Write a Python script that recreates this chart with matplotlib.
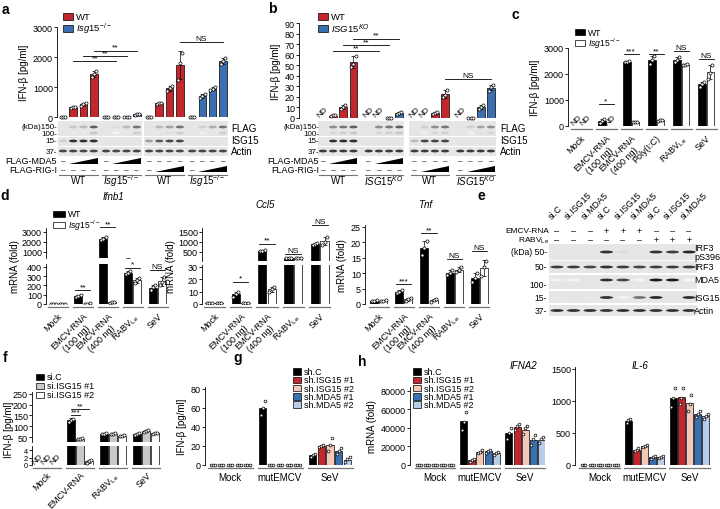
import numpy as np
import matplotlib
matplotlib.use('Agg')
import matplotlib.pyplot as plt
import matplotlib.transforms as mtransforms
from matplotlib.patches import Rectangle, Polygon, Ellipse

W, H = 720, 510

plt.rcParams['font.family'] = ['Liberation Sans', 'DejaVu Sans']
plt.rcParams['font.size'] = 6
plt.rcParams['axes.linewidth'] = 0.6
plt.rcParams['xtick.major.width'] = 0.6
plt.rcParams['ytick.major.width'] = 0.6
plt.rcParams['xtick.major.size'] = 2
plt.rcParams['ytick.major.size'] = 2
plt.rcParams['ytick.major.pad'] = 1
plt.rcParams['mathtext.fontset'] = 'custom'
plt.rcParams['mathtext.rm'] = 'Liberation Sans'
plt.rcParams['mathtext.it'] = 'Liberation Sans:italic'
plt.rcParams['mathtext.bf'] = 'Liberation Sans:bold'
plt.rcParams['mathtext.default'] = 'regular'

RED = '#C1272D'
BLUE = '#3A70B0'
PINK = '#F4C7B8'
LBLUE = '#B7CDEA'
GRAY = '#C9C9C9'

ISG = r'$\it{Isg15}^{-/-}$'
KO = r'$\it{ISG15}^{KO}$'
RABV = r'RABV$_{Le}$'

# ---- panel a : IFN-b [pg/ml], MEFs, 4 groups x 4 doses
a_wt_mda5 = [[0, 0, 0], [310, 330, 350], [380, 430, 470], [1350, 1430, 1520]]
a_ko_mda5 = [[0, 0, 0], [0, 0, 0], [0, 0, 0], [70, 95, 110]]
a_wt_rig = [[0, 0, 0], [430, 455, 480], [870, 980, 1040], [1250, 1800, 2150]]
a_ko_rig = [[0, 0, 0], [640, 700, 760], [900, 950, 990], [1760, 1880, 1960]]
a_flag = [0, .25, .3, .7, 0, .15, .3, .6, 0, .3, .4, .6, 0, .2, .35, .6]
a_isg15 = [.2, .9, .9, .9, 0, 0, 0, 0, .4, .7, .8, .8, 0, 0, 0, 0]
a_actin = [.8] * 16

# ---- panel b : human cells, None = ND
b_wt_mda5 = [None, [1.5, 2.5, 3], [9, 10.5, 12], [48, 51, 59]]
b_ko_mda5 = [None, None, [0, 0, 0], [3.5, 4.5, 6]]
b_wt_rig = [None, None, [3.5, 4.5, 5.5], [20, 22, 27]]
b_ko_rig = [None, [0, 0, 0], [9, 10.5, 12], [26, 29, 31]]
b_flag = [0, .5, .6, .7, 0, .5, .6, .7, 0, .2, .5, .6, 0, .2, .4, .5]
b_isg15 = [.1, .9, .9, .9, 0, 0, 0, 0, .3, .8, .8, .8, 0, 0, 0, 0]
b_actin = [.85] * 16

# ---- panel c
c_cats = ['Mock', 'EMCV-RNA\n(100 ng)', 'EMCV-RNA\n(400 ng)', 'Poly(I:C)', RABV, 'SeV']
c_wt = [None, [100, 200, 280], [2450, 2480, 2510], [2400, 2550, 2700], [2450, 2550, 2650], [1500, 1620, 1700]]
c_ko = [None, None, [140, 150, 160], [210, 230, 245], [2330, 2350, 2370], [1800, 2050, 2350]]
c_sig = [(1, '*', 850), (2, '***', 2770), (3, '**', 2770), (4, 'NS', 2880), (5, 'NS', 2580)]

# ---- panel d
d_cats = ['Mock', 'EMCV-RNA\n(100 ng)', 'EMCV-RNA\n(400 ng)', RABV, 'SeV']
ifnb_wt = [[1, 1, 1], [80, 90, 100], [2200, 2350, 2500], [320, 340, 360], [150, 180, 200]]
ifnb_ko = [[1, 1, 1], [3, 5, 7], [15, 20, 25], [230, 260, 280], [200, 240, 290]]
ccl5_wt = [[0.5, 0.5, 0.6], [6, 8, 10], [530, 560, 600], [190, 200, 210], [850, 900, 950]]
ccl5_ko = [[0.5, 0.5, 0.6], [0.8, 1, 1.2], [10, 12, 14], [180, 190, 200], [850, 1000, 1250]]
tnf_wt = [[1, 1, 1.2], [3.5, 4, 4.5], [16, 18, 20.5], [9.5, 10, 11], [7, 8.5, 10]]
tnf_ko = [[1, 1.1, 1.2], [1, 1.5, 2], [0.8, 1.2, 1.5], [10.5, 11, 12], [9, 12, 14]]

# ---- panel e : western blot band strength per lane
e_lanes = ['si.C', 'si.ISG15', 'si.MDA5'] * 3
e_emcv = ['–', '–', '–', '+', '+', '+', '–', '–', '–']
e_rabv = ['–', '–', '–', '–', '–', '–', '+', '+', '+']
e_pirf3 = [0, 0, 0, .9, .15, 0, .9, .85, .95]
e_irf3 = [.85, .85, .8, .9, .85, .8, .85, .85, .85]
e_mda5 = [.05, .05, 0, .9, .8, .05, 1, 1, .05]
e_isg15 = [.1, 0, .1, .9, .05, .6, .95, 0, .9]
e_actin = [.9] * 9

# ---- panel f
f_cats = ['Mock', 'EMCV-RNA', RABV, 'SeV']
f_names = ['si.C', 'si.ISG15 #1', 'si.ISG15 #2']
f_sic = [None, [120, 130, 136], [62, 65, 68], [58, 63, 68]]
f_isg1 = [None, [40, 42, 45], [63, 66, 68], [75, 78, 82]]
f_isg2 = [None, [0.6, 1, 1.4], [55, 57, 58], [66, 68, 70]]

# ---- panels g, h
sh_names = ['sh.C', 'sh.ISG15 #1', 'sh.ISG15 #2', 'sh.MDA5 #1', 'sh.MDA5 #2']
gh_cats = ['Mock', 'mutEMCV', 'SeV']
g_vals = [[[0, 0, 0], [53, 60, 67], [8, 10, 12]],
          [[0, 0, 0], [0, 0, 0], [19, 20, 21]],
          [[0, 0, 0], [0, 0, 0], [15, 21, 28]],
          [[0, 0, 0], [0, 0, 0], [12, 15, 18]],
          [[0, 0, 0], [0, 0, 0], [3, 6, 8]]]
ifna2_vals = [[[0, 0, 0], [38000, 47000, 57000], [28000, 35000, 40000]],
              [[0, 0, 0], [3000, 5000, 7000], [38000, 42000, 44000]],
              [[0, 0, 0], [13000, 14500, 16000], [33000, 40000, 42000]],
              [[0, 0, 0], [13000, 15000, 16500], [22000, 28000, 32000]],
              [[0, 0, 0], [11000, 13000, 14000], [24000, 28000, 30000]]]
il6_vals = [[[0, 0, 0], [650, 700, 720], [900, 1050, 1200]],
            [[0, 0, 0], [220, 240, 260], [950, 1050, 1200]],
            [[0, 0, 0], [280, 300, 320], [850, 950, 1100]],
            [[0, 0, 0], [100, 120, 140], [750, 800, 850]],
            [[0, 0, 0], [110, 125, 140], [720, 770, 800]]]
sh_colors = ['black', RED, PINK, BLUE, LBLUE]

TICK = 6.5


def add_ax(fig, x0, y0, x1, y1):
    ax = fig.add_axes([x0 / W, 1 - y1 / H, (x1 - x0) / W, (y1 - y0) / H])
    ax.patch.set_alpha(0)
    ax.spines['top'].set_visible(False)
    ax.spines['right'].set_visible(False)
    ax.tick_params(labelsize=TICK)
    return ax


def lane_px(ax, xs):
    return [ax.transData.transform((x, 0))[0] for x in xs]


def bars(ax, xs, reps, color, width, err=True, clip=True, nd=True, s=5):
    lo, hi = ax.get_ylim()
    for x, r in zip(xs, reps):
        if r is None:
            if nd:
                ax.text(x, 0, 'ND', rotation=45, ha='center', va='bottom', fontsize=6)
            continue
        r = np.asarray(r, float)
        m = r.mean()
        ax.bar(x, m, width, color=color, edgecolor='black', linewidth=0.5, zorder=2)
        if err and r.std() > 0:
            ax.errorbar(x, m, yerr=r.std(ddof=1), fmt='none', ecolor='black',
                        elinewidth=0.5, capsize=1.3, capthick=0.5, zorder=3)
        jx = x + np.array([-0.28, 0.0, 0.28]) * width
        if clip:
            keep = (r >= lo) & (r <= hi)
            jx, r = jx[keep], r[keep]
        ax.scatter(jx, r, s=s, facecolor='white', edgecolor='black',
                   linewidths=0.5, zorder=4, clip_on=clip)


def sig(ax, x0, x1, y, txt):
    ax.plot([x0, x1], [y, y], color='black', lw=0.6, clip_on=False, zorder=5)
    ax.text((x0 + x1) / 2, y, txt, ha='center', va='bottom', fontsize=6, clip_on=False)


def cat_axis(ax, centers, labels, half, rot=True, pad=5, fs=TICK):
    ax.set_xticks(centers)
    ax.set_xticklabels(labels, fontsize=fs)
    ax.tick_params(axis='x', length=0, pad=pad)
    ax.spines['bottom'].set_visible(False)
    tr = mtransforms.offset_copy(ax.get_xaxis_transform(), fig=ax.figure, y=-2.5, units='dots')
    for c in centers:
        ax.plot([c - half, c + half], [0, 0], color='0.45', lw=0.9, transform=tr, clip_on=False)
    if rot:
        for t in ax.get_xticklabels():
            t.set_rotation(45)
            t.set_ha('right')
            t.set_rotation_mode('anchor')
            t.set_multialignment('center')


def legend_box(ov, x, y, color, label, w=10, h=7, fs=6.5):
    ov.add_patch(Rectangle((x, y - h / 2), w, h, facecolor=color, edgecolor='black', lw=0.5))
    ov.text(x + w + 3, y, label, va='center', ha='left', fontsize=fs)


def draw_blot(ov, xs, segs, rows):
    sp = min(np.diff(xs))
    for y0, y1, bands in rows:
        for s0, s1 in segs:
            ov.add_patch(Rectangle((xs[s0] - sp * 0.5, y0), xs[s1] - xs[s0] + sp, y1 - y0,
                                   facecolor='#E6E6E6', edgecolor='none'))
        for by, vals in bands:
            for x, v in zip(xs, vals):
                if v > 0:
                    ov.add_patch(Ellipse((x, by), sp * 0.8, 2.8, facecolor=str(1 - 0.9 * v),
                                         edgecolor='none'))


def dose_panel(fig, ov, box, vals, colors, step, xlim, ylim, yticks, sigs,
               flag, isg15, actin, kda_x, right_x, glabels):
    ax = add_ax(fig, *box)
    ax.set_xlim(*xlim)
    ax.set_ylim(*ylim)
    pos = [[g * step + i for i in range(4)] for g in range(4)]
    for g in range(4):
        bars(ax, pos[g], vals[g], colors[g], 0.75, clip=False)
    ax.set_yticks(yticks)
    ax.set_xticks([])
    ax.spines['bottom'].set_visible(False)
    ax.set_ylabel('IFN-β [pg/ml]', fontsize=7, labelpad=3)
    for g0, i0, g1, i1, txt, y in sigs:
        sig(ax, pos[g0][i0], pos[g1][i1], y, txt)

    flat = [p for grp in pos for p in grp]
    xs = lane_px(ax, flat)
    faint = [v * 0.35 for v in flag]
    draw_blot(ov, xs, [(0, 7), (8, 15)],
              [(122, 137, [(128, flag), (134, faint)]),
               (138, 147, [(142, isg15)]),
               (148, 157, [(152, actin)])])
    for txt, y in [('(kDa)150-', 127.5), ('100-', 134.5), ('15-', 142), ('37-', 153)]:
        ov.text(kda_x, y, txt, ha='right', va='center', fontsize=5.8)
    for txt, y in [('FLAG', 129), ('ISG15', 141), ('Actin', 152)]:
        ov.text(right_x, y, txt, ha='left', va='center', fontsize=7)
    ov.text(kda_x, 162, 'FLAG-MDA5', ha='right', va='center', fontsize=6.5)
    ov.text(kda_x, 170.5, 'FLAG-RIG-I', ha='right', va='center', fontsize=6.5)
    for g in range(4):
        gx = xs[g * 4:(g + 1) * 4]
        dose_row = 162 if g < 2 else 170.5
        other = 170.5 if g < 2 else 162
        ov.text(gx[0], dose_row, '–', ha='center', va='center', fontsize=6)
        ov.add_patch(Polygon([(gx[1] - 4, dose_row + 2.5), (gx[3] + 4, dose_row + 2.5),
                              (gx[3] + 4, dose_row - 3.5)], closed=True,
                             facecolor='black', edgecolor='none'))
        for x in gx:
            ov.text(x, other, '–', ha='center', va='center', fontsize=6)
        ov.plot([gx[0] - 4, gx[3] + 4], [175.5, 175.5], color='0.45', lw=0.8)
        ov.text(np.mean(gx), 181, glabels[g % 2], ha='center', va='center', fontsize=7)
    return ax


def pair_panel(ax_list, centers, wt, ko, off, width, low_ax, nd=True):
    for ax in ax_list:
        bars(ax, centers - off, wt, 'black', width, nd=(ax is low_ax and nd))
        bars(ax, centers + off, ko, 'white', width, nd=(ax is low_ax and nd))


def broken(ax_u, ax_l):
    ax_u.spines['bottom'].set_visible(False)
    ax_u.set_xticks([])
    ax_l.spines['top'].set_visible(False)


def group_panel(ax, vals, colors, step, width, err=False):
    centers = np.arange(len(vals[0]))
    for k, (v, col) in enumerate(zip(vals, colors)):
        xs = centers + (k - (len(vals) - 1) / 2) * step
        bars(ax, xs, v, col, width, err=err, clip=False, s=4)
    return centers


def main():
    fig = plt.figure(figsize=(W / 100, H / 100), dpi=100)
    ov = fig.add_axes([0, 0, 1, 1], zorder=10)
    ov.set_xlim(0, W)
    ov.set_ylim(H, 0)
    ov.axis('off')

    # a
    dose_panel(fig, ov, (57, 28, 228, 118), [a_wt_mda5, a_ko_mda5, a_wt_rig, a_ko_rig],
               [RED, BLUE, RED, BLUE], 4.2, (-0.58, 16.1), (0, 3000), [0, 1000, 2000, 3000],
               [(0, 1, 1, 1, '**', 1870), (0, 2, 1, 2, '**', 2020), (0, 3, 1, 3, '**', 2210),
                (2, 3, 3, 3, 'NS', 2490)],
               a_flag, a_isg15, a_actin, 57, 231, ['WT', ISG])
    legend_box(ov, 63, 17.5, RED, 'WT', fs=6.8)
    legend_box(ov, 63, 29, BLUE, ISG, fs=6.8)

    # b
    dose_panel(fig, ov, (299, 24, 497, 119), [b_wt_mda5, b_ko_mda5, b_wt_rig, b_ko_rig],
               [RED, BLUE, RED, BLUE], 4.5, (-2.35, 17.1), (0, 90), list(range(0, 91, 10)),
               [(0, 1, 1, 1, '**', 63.5), (0, 2, 1, 2, '**', 69), (0, 3, 1, 3, '**', 75),
                (2, 3, 3, 3, 'NS', 37)],
               b_flag, b_isg15, b_actin, 319, 500, ['WT', KO])
    legend_box(ov, 318, 17.5, RED, 'WT', fs=6.8)
    legend_box(ov, 318, 29, BLUE, KO, fs=6.8)

    # c
    ax = add_ax(fig, 568, 49, 716, 127)
    ax.set_xlim(-0.52, 5.4)
    ax.set_ylim(0, 3000)
    cc = np.arange(len(c_cats), dtype=float)
    pair_panel([ax], cc, c_wt, c_ko, 0.17, 0.3, ax)
    ax.set_yticks([0, 1000, 2000, 3000])
    cat_axis(ax, cc, c_cats, 0.42)
    ax.set_ylabel('IFN-β [pg/ml]', fontsize=7, labelpad=3)
    for k, txt, y in c_sig:
        sig(ax, k - 0.3, k + 0.3, y, txt)
    legend_box(ov, 575, 33, 'black', 'WT', h=6, fs=6.2)
    legend_box(ov, 575, 44, 'white', ISG, h=6, fs=6.2)

    # d
    dc = np.arange(len(d_cats), dtype=float)
    specs = [
        ('Ifnb1', (46, 170), (-0.48, 4.5), ifnb_wt, ifnb_ko, (229, 259), (400, 3400), [1000, 2000, 3000],
         (265, 305), (0, 432), [0, 100, 200, 300, 400], (113, 197),
         [(1, '**', 150, 'l'), (2, '**', 3500, 'u'), (3, '*', 390, 'l'), (4, 'NS', 370, 'l')]),
        ('Ccl5', (202, 333), (-0.46, 4.5), ccl5_wt, ccl5_ko, (229, 262), (50, 1700), [500, 1000, 1500],
         (266, 305), (0, 31.6), [0, 10, 20, 30], (265, 205),
         [(1, '*', 18, 'l'), (2, '**', 920, 'u'), (3, 'NS', 400, 'u'), (4, 'NS', 1850, 'u')]),
    ]
    for title, (x0, x1), xl, wt, ko, uy, ulim, uticks, ly, llim, lticks, tpos, sgs in specs:
        ax_u = add_ax(fig, x0, uy[0], x1, uy[1])
        ax_l = add_ax(fig, x0, ly[0], x1, ly[1])
        for a_ in (ax_u, ax_l):
            a_.set_xlim(*xl)
        ax_u.set_ylim(*ulim)
        ax_l.set_ylim(*llim)
        pair_panel([ax_u, ax_l], dc, wt, ko, 0.18, 0.32, ax_l)
        ax_u.set_yticks(uticks)
        ax_l.set_yticks(lticks)
        broken(ax_u, ax_l)
        cat_axis(ax_l, dc, d_cats, 0.4)
        for k, txt, y, which in sgs:
            sig(ax_u if which == 'u' else ax_l, k - 0.3, k + 0.3, y, txt)
        ov.text(x0 - 31, 267, 'mRNA (fold)', rotation=90, ha='center', va='center', fontsize=7)
        ov.text(tpos[0], tpos[1], title, style='italic', ha='center', va='center', fontsize=7)
    ax = add_ax(fig, 365, 226, 493, 305)
    ax.set_xlim(-0.55, 4.55)
    ax.set_ylim(0, 25.6)
    pair_panel([ax], dc, tnf_wt, tnf_ko, 0.18, 0.32, ax)
    ax.set_yticks([0, 5, 10, 15, 20, 25])
    cat_axis(ax, dc, d_cats, 0.4)
    ax.set_ylabel('mRNA (fold)', fontsize=7, labelpad=3)
    for k, txt, y in [(1, '***', 6.5), (2, '**', 23), (3, 'NS', 14.6), (4, 'NS', 17.3)]:
        sig(ax, k - 0.3, k + 0.3, y, txt)
    ov.text(425, 205, 'Tnf', style='italic', ha='center', va='center', fontsize=7)
    legend_box(ov, 53, 214.5, 'black', 'WT', w=12, h=6, fs=6.2)
    legend_box(ov, 53, 225.5, 'white', ISG, w=12, h=6, fs=6.2)

    # e
    ex = [557 + 16.5 * k for k in range(9)]
    for x, lab in zip(ex, e_lanes):
        ov.text(x - 4, 221, lab, rotation=45, ha='left', va='bottom', rotation_mode='anchor', fontsize=6.5)
    ov.text(549, 232, 'EMCV-RNA', ha='right', va='center', fontsize=6)
    ov.text(549, 240.5, RABV, ha='right', va='center', fontsize=6)
    for x, m1, m2 in zip(ex, e_emcv, e_rabv):
        ov.text(x, 232, m1, ha='center', va='center', fontsize=6.5)
        ov.text(x, 240.5, m2, ha='center', va='center', fontsize=6.5)
    draw_blot(ov, ex, [(0, 8)],
              [(245, 261, [(253, e_pirf3)]),
               (262, 274, [(268, e_irf3)]),
               (276, 290, [(281, e_mda5)]),
               (292, 304, [(298.5, e_isg15)]),
               (306, 317, [(311.5, e_actin)])])
    for txt, y in [('(kDa) 50-', 253), ('50-', 268), ('100-', 286), ('15-', 298.5), ('37-', 311.5)]:
        ov.text(547, y, txt, ha='right', va='center', fontsize=6.2)
    for txt, y in [('IRF3\npS396', 253), ('IRF3', 268), ('MDA5', 281), ('ISG15', 298.5), ('Actin', 311.5)]:
        ov.text(694, y, txt, ha='left', va='center', fontsize=6.5, linespacing=0.95)

    # f
    ax_u = add_ax(fig, 32, 393, 162, 443)
    ax_l = add_ax(fig, 32, 447, 162, 466)
    ax_u.set_ylim(27, 259)
    ax_l.set_ylim(0, 5.1)
    fc = np.arange(len(f_cats), dtype=float)
    for a_ in (ax_u, ax_l):
        a_.set_xlim(-0.45, 3.48)
        for k, (v, col) in enumerate(zip([f_sic, f_isg1, f_isg2], ['black', GRAY, 'white'])):
            bars(a_, fc + (k - 1) * 0.27, v, col, 0.24, nd=(a_ is ax_l))
    ax_u.set_yticks([50, 100, 150, 200, 250])
    ax_l.set_yticks([0, 2, 4])
    ax_l.tick_params(axis='y', labelsize=5.3)
    broken(ax_u, ax_l)
    cat_axis(ax_l, fc, f_cats, 0.42, pad=3.5, fs=6.5)
    sig(ax_u, 1 - 0.27, 1, 150, '***')
    sig(ax_u, 1 - 0.27, 1 + 0.27, 180, '**')
    ov.text(9, 430, 'IFN-β [pg/ml]', rotation=90, ha='center', va='center', fontsize=7)
    for k, (nm, col) in enumerate(zip(f_names, ['black', GRAY, 'white'])):
        legend_box(ov, 36, 378 + 9 * k, col, nm, w=8, h=6.5)

    # g
    ax = add_ax(fig, 205, 388, 355, 466)
    ax.set_xlim(-0.5, 2.5)
    ax.set_ylim(0, 82)
    gc = group_panel(ax, g_vals, sh_colors, 0.174, 0.15)
    ax.set_yticks([0, 20, 40, 60, 80])
    cat_axis(ax, gc, gh_cats, 0.45, rot=False, fs=7)
    ax.set_ylabel('IFN-β [pg/ml]', fontsize=7, labelpad=3)
    for k, (nm, col) in enumerate(zip(sh_names, sh_colors)):
        legend_box(ov, 293, 372.5 + 8.3 * k, col, nm, w=8, h=6.5)

    # h
    ax = add_ax(fig, 410, 388, 545, 466)
    ax.set_xlim(-0.55, 2.44)
    ax.set_ylim(0, 84300)
    hc = group_panel(ax, ifna2_vals, sh_colors, 0.18, 0.155)
    ax.set_yticks([0, 20000, 40000, 60000, 80000])
    cat_axis(ax, hc, gh_cats, 0.45, rot=False, fs=7)
    ax.set_ylabel('mRNA (fold)', fontsize=7, labelpad=3)
    ov.text(523, 366, 'IFNA2', style='italic', ha='center', va='center', fontsize=7)
    for k, (nm, col) in enumerate(zip(sh_names, sh_colors)):
        legend_box(ov, 413, 372.5 + 8.3 * k, col, nm, w=8, h=6.5)

    ax = add_ax(fig, 575, 368, 712, 466)
    ax.set_xlim(-0.55, 2.5)
    ax.set_ylim(0, 1530)
    ic = group_panel(ax, il6_vals, sh_colors, 0.18, 0.155)
    ax.set_yticks([0, 500, 1000, 1500])
    cat_axis(ax, ic, gh_cats, 0.45, rot=False, fs=7)
    ov.text(640, 366, 'IL-6', style='italic', ha='center', va='center', fontsize=7)

    for txt, x, y in [('a', 5, 10), ('b', 272, 9), ('c', 515, 15), ('d', 5, 196),
                      ('e', 481, 196), ('f', 5, 358), ('g', 238, 358), ('h', 362, 362)]:
        ov.text(x, y, txt, fontsize=10, fontweight='bold', ha='center', va='center')

    fig.savefig('out.png', dpi=100)


if __name__ == '__main__':
    main()
